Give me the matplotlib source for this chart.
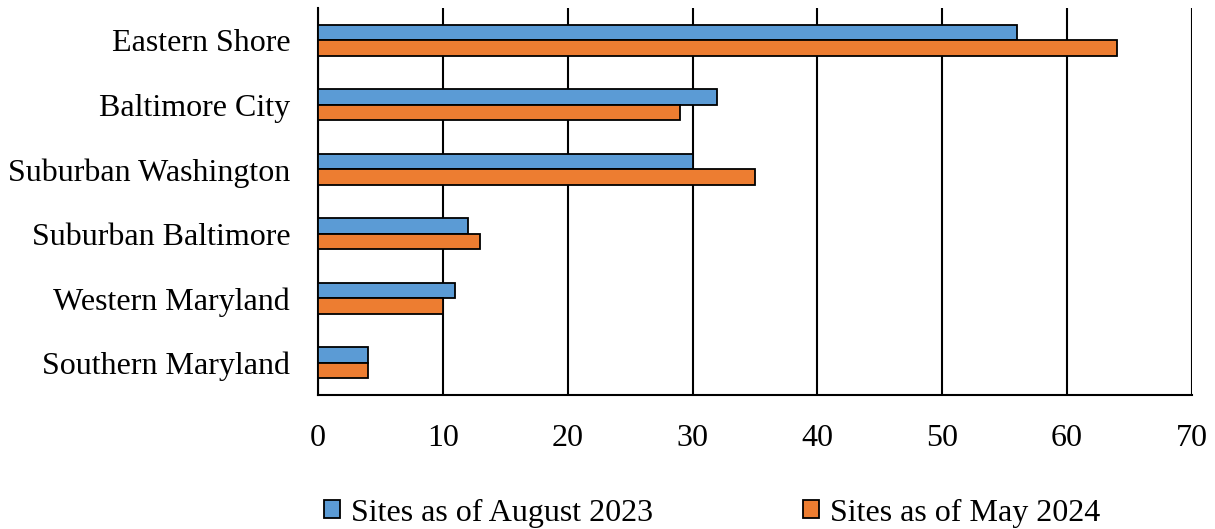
import matplotlib
matplotlib.use("Agg")
import matplotlib.pyplot as plt
import numpy as np
from matplotlib.patches import Patch

categories = ["Eastern Shore", "Baltimore City", "Suburban Washington",
              "Suburban Baltimore", "Western Maryland", "Southern Maryland"]
aug2023 = [56, 32, 30, 12, 11, 4]
may2024 = [64, 29, 35, 13, 10, 4]
series_names = ["Sites as of August 2023", "Sites as of May 2024"]
xticks = [0, 10, 20, 30, 40, 50, 60, 70]

plt.rcParams['font.family'] = ['Liberation Serif', 'DejaVu Serif']

fig = plt.figure(figsize=(12.15, 5.29), dpi=100)
ax = fig.add_axes([0.2617, 0.253, 0.7193, 0.732])

n = len(categories)
y = np.arange(n)[::-1].astype(float)
h = 0.24
blue = "#5B9BD5"
orange = "#ED7D31"
ax.barh(y + h/2, aug2023, height=h, color=blue, edgecolor="black", linewidth=1.3, zorder=3)
ax.barh(y - h/2, may2024, height=h, color=orange, edgecolor="black", linewidth=1.3, zorder=3)

ax.set_xlim(0, 70)
ax.set_ylim(-0.5, n - 0.5)
ax.set_xticks(xticks)
ax.set_xticklabels([str(t) for t in xticks], fontsize=23)
ax.set_yticks(y)
ax.set_yticklabels(categories, fontsize=23)
ax.tick_params(axis='both', length=0)
ax.tick_params(axis='x', pad=21)
ax.tick_params(axis='y', pad=20)
ax.xaxis.grid(True, color="black", linewidth=1.5, zorder=0)
for s in ["top", "right"]:
    ax.spines[s].set_visible(False)
ax.spines["left"].set_linewidth(1.5)
ax.spines["bottom"].set_linewidth(1.5)

handles = [Patch(facecolor=blue, edgecolor="black", linewidth=1.3),
           Patch(facecolor=orange, edgecolor="black", linewidth=1.3)]
fig.legend(handles, series_names, loc="center", bbox_to_anchor=(0.586, 0.03),
           ncol=2, frameon=False, fontsize=23, handlelength=0.5, handleheight=0.5,
           handletextpad=0.35, columnspacing=4.7)

fig.savefig("out.png", dpi=100)
